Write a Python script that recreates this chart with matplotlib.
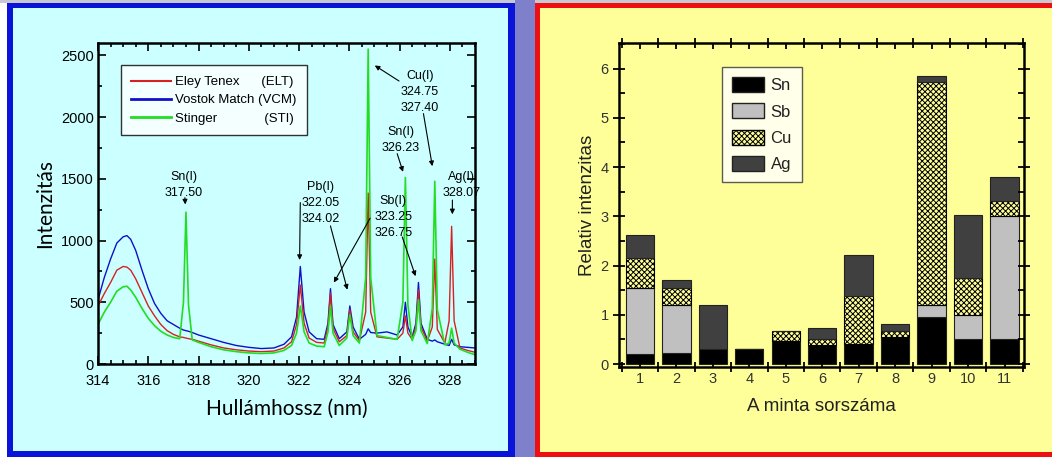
import matplotlib.pyplot as plt
from matplotlib.patches import Rectangle, Patch
from matplotlib.lines import Line2D
from matplotlib.ticker import MultipleLocator

# spectra (wavelength in nm, intensity)
wavelength = [314.0, 314.25, 314.5, 314.75, 315.0, 315.15, 315.3, 315.5, 315.75, 316.0,
              316.25, 316.5, 316.75, 317.0, 317.25, 317.4, 317.5, 317.6, 317.75, 318.0,
              318.5, 319.0, 319.5, 320.0, 320.5, 321.0, 321.4, 321.7, 321.9, 322.05,
              322.2, 322.4, 322.7, 323.0, 323.15, 323.25, 323.35, 323.6, 323.9, 324.02,
              324.15, 324.4, 324.65, 324.75, 324.85, 325.1, 325.5, 325.9, 326.13, 326.23,
              326.33, 326.5, 326.65, 326.75, 326.85, 327.1, 327.3, 327.4, 327.5, 327.8,
              327.97, 328.07, 328.17, 328.4, 328.7, 329.0]
vcm = [520, 700, 850, 980, 1030, 1040, 1010, 920, 760, 610,
       490, 410, 350, 320, 290, 275, 270, 265, 255, 235,
       205, 175, 150, 135, 125, 130, 160, 220, 380, 790,
       420, 260, 205, 200, 330, 610, 320, 205, 260, 470,
       300, 200, 240, 285, 255, 250, 260, 235, 300, 500,
       300, 220, 330, 660, 330, 200, 185, 195, 180, 160,
       150, 200, 155, 140, 135, 130]
elt = [470, 570, 660, 760, 790, 785, 760, 690, 580, 470,
       390, 320, 270, 240, 220, 215, 210, 205, 200, 185,
       155, 130, 115, 105, 100, 105, 130, 180, 320, 640,
       330, 210, 175, 170, 300, 575, 290, 180, 230, 440,
       260, 190, 420, 1385, 420, 220, 210, 200, 250, 390,
       250, 200, 300, 600, 300, 185, 300, 850, 280, 170,
       350, 1115, 350, 130, 110, 95]
sti = [320, 420, 500, 590, 625, 630, 600, 540, 450, 370,
       310, 265, 235, 215, 205, 500, 1230, 480, 195, 175,
       140, 115, 100, 90, 85, 90, 110, 150, 250, 470,
       260, 170, 145, 140, 260, 470, 250, 150, 210, 400,
       230, 170, 700, 2550, 700, 230, 215, 200, 500, 1510,
       480, 190, 270, 520, 270, 165, 450, 1480, 440, 155,
       170, 290, 170, 120, 95, 75]

# stacked relative intensities per sample (right panel)
samples = [1, 2, 3, 4, 5, 6, 7, 8, 9, 10, 11]
sn = [0.20, 0.22, 0.30, 0.30, 0.46, 0.39, 0.41, 0.54, 0.95, 0.50, 0.50]
sb = [1.34, 0.97, 0.0, 0.0, 0.0, 0.0, 0.0, 0.0, 0.25, 0.50, 2.50]
cu = [0.62, 0.35, 0.0, 0.0, 0.21, 0.11, 0.98, 0.14, 4.52, 0.75, 0.31]
ag = [0.47, 0.17, 0.89, 0.0, 0.0, 0.23, 0.82, 0.14, 0.13, 1.27, 0.49]

W, H = 1052, 457
fig = plt.figure(figsize=(W / 100, H / 100), dpi=100)
fig.patch.set_facecolor('white')


def px_rect(x0, y0, x1, y1, color):
    # rectangle given in pixels from the top-left corner
    r = Rectangle((x0 / W, 1 - y1 / H), (x1 - x0) / W, (y1 - y0) / H,
                  transform=fig.transFigure, facecolor=color, edgecolor='none', zorder=-10)
    fig.patches.append(r)


px_rect(0, 0, W, 3, '#c9c9d6')
px_rect(7, 3, 515, H, '#0a14d8')
px_rect(13, 8, 508, 451, '#ccffff')
px_rect(515, 0, 535, H, '#7f80cc')
px_rect(535, 3, W, H, '#ee1010')
px_rect(540, 8, W, 452, '#ffff99')

plt.rcParams['font.family'] = ['Liberation Sans', 'DejaVu Sans']
plt.rcParams['hatch.linewidth'] = 0.7

# ---------------- left panel: spectra ----------------
ax1 = fig.add_axes([98 / W, 1 - 364 / H, 377 / W, 321 / H])
ax1.set_facecolor('none')
ax1.plot(wavelength, vcm, color='#1010c8', lw=1.0)
ax1.plot(wavelength, elt, color='#d42222', lw=1.0)
ax1.plot(wavelength, sti, color='#22dd22', lw=1.2)
ax1.set_xlim(314, 329)
ax1.set_ylim(0, 2600)
ax1.xaxis.set_major_locator(MultipleLocator(2))
ax1.xaxis.set_minor_locator(MultipleLocator(0.5))
ax1.yaxis.set_major_locator(MultipleLocator(500))
ax1.yaxis.set_minor_locator(MultipleLocator(250))
ax1.tick_params(which='both', direction='in', top=True, right=True, width=1.2, labelsize=10.5)
ax1.tick_params(which='major', length=6)
ax1.tick_params(which='minor', length=3)
ax1.tick_params(axis='x', pad=7)
ax1.tick_params(axis='y', pad=3)
for s in ax1.spines.values():
    s.set_linewidth(1.8)
ax1.set_xlabel('Hullámhossz (nm)', family='Lato', fontsize=15, labelpad=8)
ax1.set_ylabel('Intenzitás', family='Lato', fontsize=15, labelpad=4)

handles = [Line2D([], [], color='#d42222', lw=1.5),
           Line2D([], [], color='#1010c8', lw=2),
           Line2D([], [], color='#22dd22', lw=2)]
ax1.legend(handles, ['Eley Tenex      (ELT)', 'Vostok Match (VCM)', 'Stinger             (STI)'],
           loc='upper left', bbox_to_anchor=(0.06, 0.93), borderaxespad=0, fontsize=9.5,
           frameon=True, fancybox=False, edgecolor='black', handlelength=3,
           labelspacing=0.45, borderpad=0.8, handletextpad=0.3).get_frame().set_linewidth(1)

# peak labels: (text x, text y, lines)
labels = [(317.4, 1560, 'Sn(I)\n317.50'),
          (322.85, 1480, 'Pb(I)\n322.05\n324.02'),
          (325.75, 1370, 'Sb(I)\n323.25\n326.75'),
          (326.8, 2380, 'Cu(I)\n324.75\n327.40'),
          (326.05, 1930, 'Sn(I)\n326.23'),
          (328.45, 1560, 'Ag(I)\n328.07')]
for x, y, t in labels:
    ax1.text(x, y, t, ha='center', va='top', fontsize=9, linespacing=1.45)

# arrows: (start, tip)
arrows = [((317.45, 1370), (317.48, 1270)),
          ((322.05, 1330), (322.02, 820)),
          ((323.22, 1140), (323.95, 580)),
          ((324.88, 1200), (323.33, 640)),
          ((326.07, 1050), (326.67, 690)),
          ((326.07, 2280), (324.92, 2430)),
          ((326.93, 2050), (327.32, 1580)),
          ((325.87, 1725), (326.17, 1535)),
          ((328.10, 1350), (328.10, 1190))]
for start, tip in arrows:
    ax1.annotate('', xy=tip, xytext=start,
                 arrowprops=dict(arrowstyle='-|>', color='black', lw=0.8, mutation_scale=7))

# ---------------- right panel: stacked bars ----------------
ax2 = fig.add_axes([619 / W, 1 - 367 / H, 405 / W, 324 / H])
ax2.set_facecolor('none')
bw = 0.78
b1 = [a + b for a, b in zip(sn, sb)]
b2 = [a + b for a, b in zip(b1, cu)]
ax2.bar(samples, sn, bw, color='black', edgecolor='#222222', lw=0.8)
ax2.bar(samples, sb, bw, bottom=sn, color='#c0c0c0', edgecolor='#222222', lw=0.8)
ax2.bar(samples, cu, bw, bottom=b1, color='#ffff99', edgecolor='black', hatch='xxxxxx', lw=0.8)
ax2.bar(samples, ag, bw, bottom=b2, color='#404040', edgecolor='#222222', lw=0.8)
ax2.set_xlim(0.43, 11.53)
ax2.set_ylim(-0.06, 6.52)
ax2.set_xticks(samples)
ax2.xaxis.set_minor_locator(MultipleLocator(0.5))
ax2.yaxis.set_major_locator(MultipleLocator(1))
ax2.yaxis.set_minor_locator(MultipleLocator(0.5))
ax2.tick_params(which='both', top=True, right=True, width=1.3, labelsize=10.5,
                labelcolor='#333333')
ax2.tick_params(axis='x', which='major', direction='in', length=4)
ax2.tick_params(axis='x', which='minor', direction='inout', length=7)
ax2.tick_params(axis='y', which='major', direction='inout', length=8)
ax2.tick_params(axis='y', which='minor', direction='in', length=4)
for s in ax2.spines.values():
    s.set_linewidth(1.8)
ax2.set_xlabel('A minta sorszáma', fontsize=13.5, color='#222222', labelpad=9)
ax2.set_ylabel('Relativ intenzitas', fontsize=13.5, color='#222222', labelpad=3)

leg_handles = [Patch(facecolor='black', edgecolor='#222222'),
               Patch(facecolor='#c0c0c0', edgecolor='#222222'),
               Patch(facecolor='#ffff99', edgecolor='black', hatch='xxxxxx'),
               Patch(facecolor='#404040', edgecolor='#222222')]
leg2 = ax2.legend(leg_handles, ['Sn', 'Sb', 'Cu', 'Ag'], loc='upper left',
                  bbox_to_anchor=(0.255, 0.925), borderaxespad=0, fontsize=12, frameon=True,
                  fancybox=False, edgecolor='#333333', handlelength=1.9, handleheight=1.0,
                  labelspacing=0.6, borderpad=0.6, handletextpad=0.4)
leg2.get_frame().set_linewidth(1)
for t in leg2.get_texts():
    t.set_color('#222222')

fig.savefig('out.png', dpi=100)
